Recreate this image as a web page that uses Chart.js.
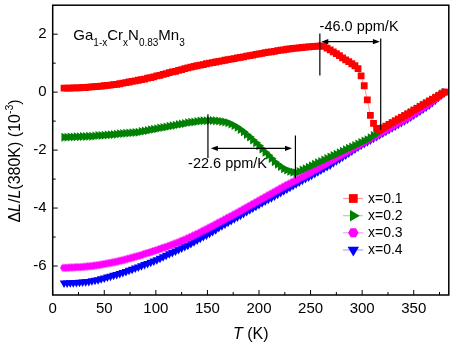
<!DOCTYPE html>
<html>
<head>
<meta charset="utf-8">
<script src="https://cdn.jsdelivr.net/npm/chart.js@4.4.1/dist/chart.umd.min.js"></script>
<style>
  html, body { margin: 0; padding: 0; background: #fff; }
  #wrap { width: 454px; height: 346px; }
</style>
</head>
<body>
<div id="wrap"><canvas id="myChart" width="454" height="346"></canvas></div>
<script>
// temperatures (K), one reading every 3 K
const temps = [
  11, 14, 17, 20, 23, 26, 29, 32, 35, 38,
  41, 44, 47, 50, 53, 56, 59, 62, 65, 68,
  71, 74, 77, 80, 83, 86, 89, 92, 95, 98,
  101, 104, 107, 110, 113, 116, 119, 122, 125, 128,
  131, 134, 137, 140, 143, 146, 149, 152, 155, 158,
  161, 164, 167, 170, 173, 176, 179, 182, 185, 188,
  191, 194, 197, 200, 203, 206, 209, 212, 215, 218,
  221, 224, 227, 230, 233, 236, 239, 242, 245, 248,
  251, 254, 257, 260, 263, 266, 269, 272, 275, 278,
  281, 284, 287, 290, 293, 296, 299, 302, 305, 308,
  311, 314, 317, 320, 323, 326, 329, 332, 335, 338,
  341, 344, 347, 350, 353, 356, 359, 362, 365, 368,
  371, 374, 377, 380,
];

// dL/L(380K) in 10^-3
const x01 = [
  0.14, 0.14, 0.14, 0.15, 0.15, 0.15, 0.16, 0.16, 0.17, 0.18,
  0.19, 0.20, 0.21, 0.22, 0.23, 0.24, 0.26, 0.27, 0.29, 0.31,
  0.33, 0.35, 0.37, 0.39, 0.41, 0.43, 0.45, 0.48, 0.50, 0.53,
  0.56, 0.58, 0.61, 0.64, 0.67, 0.70, 0.72, 0.75, 0.78, 0.81,
  0.84, 0.86, 0.89, 0.91, 0.93, 0.95, 0.98, 1.00, 1.02, 1.04,
  1.06, 1.08, 1.10, 1.12, 1.14, 1.16, 1.18, 1.20, 1.22, 1.24,
  1.26, 1.28, 1.30, 1.32, 1.34, 1.36, 1.38, 1.39, 1.41, 1.43,
  1.45, 1.46, 1.48, 1.49, 1.51, 1.52, 1.53, 1.54, 1.55, 1.56,
  1.57, 1.58, 1.59, 1.60, 1.58, 1.52, 1.46, 1.39, 1.33, 1.26,
  1.18, 1.11, 1.05, 0.98, 0.91, 0.81, 0.56, 0.22, -0.27, -0.80,
  -1.08, -1.25, -1.29, -1.23, -1.17, -1.11, -1.05, -0.99, -0.93, -0.87,
  -0.81, -0.75, -0.69, -0.62, -0.56, -0.50, -0.43, -0.37, -0.31, -0.25,
  -0.19, -0.12, -0.06, 0.00,
];
const x02 = [
  -1.56, -1.56, -1.55, -1.55, -1.54, -1.54, -1.53, -1.53, -1.52, -1.52,
  -1.51, -1.50, -1.50, -1.49, -1.48, -1.47, -1.46, -1.45, -1.44, -1.43,
  -1.42, -1.41, -1.40, -1.39, -1.38, -1.36, -1.34, -1.32, -1.30, -1.28,
  -1.26, -1.24, -1.22, -1.20, -1.18, -1.16, -1.14, -1.12, -1.10, -1.08,
  -1.06, -1.04, -1.03, -1.01, -1.00, -0.99, -0.99, -0.98, -0.98, -0.99,
  -1.00, -1.01, -1.03, -1.06, -1.10, -1.15, -1.21, -1.29, -1.37, -1.46,
  -1.55, -1.65, -1.75, -1.85, -1.96, -2.07, -2.18, -2.29, -2.40, -2.49,
  -2.57, -2.64, -2.69, -2.73, -2.76, -2.78, -2.74, -2.69, -2.64, -2.59,
  -2.54, -2.49, -2.44, -2.39, -2.34, -2.29, -2.24, -2.19, -2.14, -2.09,
  -2.04, -1.99, -1.94, -1.89, -1.84, -1.79, -1.74, -1.69, -1.64, -1.57,
  -1.50, -1.43, -1.36, -1.29, -1.22, -1.15, -1.08, -1.01, -0.95, -0.89,
  -0.83, -0.77, -0.70, -0.64, -0.58, -0.51, -0.45, -0.39, -0.32, -0.26,
  -0.19, -0.13, -0.06, 0.00,
];
const x03 = [
  -6.06, -6.06, -6.05, -6.05, -6.04, -6.04, -6.03, -6.02, -6.01, -6.00,
  -5.98, -5.97, -5.95, -5.93, -5.91, -5.89, -5.87, -5.85, -5.82, -5.80,
  -5.77, -5.74, -5.71, -5.68, -5.65, -5.62, -5.58, -5.55, -5.52, -5.48,
  -5.45, -5.41, -5.37, -5.34, -5.30, -5.26, -5.22, -5.18, -5.13, -5.09,
  -5.04, -4.99, -4.94, -4.89, -4.84, -4.78, -4.73, -4.67, -4.62, -4.56,
  -4.50, -4.45, -4.39, -4.33, -4.28, -4.22, -4.16, -4.10, -4.04, -3.98,
  -3.92, -3.86, -3.80, -3.74, -3.68, -3.62, -3.56, -3.50, -3.44, -3.38,
  -3.32, -3.26, -3.20, -3.15, -3.09, -3.04, -2.98, -2.92, -2.87, -2.81,
  -2.75, -2.69, -2.63, -2.57, -2.51, -2.45, -2.39, -2.33, -2.27, -2.21,
  -2.15, -2.09, -2.03, -1.97, -1.91, -1.85, -1.79, -1.73, -1.67, -1.61,
  -1.55, -1.49, -1.43, -1.37, -1.31, -1.25, -1.19, -1.13, -1.07, -1.01,
  -0.95, -0.89, -0.82, -0.75, -0.68, -0.61, -0.54, -0.47, -0.40, -0.32,
  -0.24, -0.16, -0.08, 0.00,
];
const x04 = [
  -6.59, -6.59, -6.58, -6.58, -6.57, -6.56, -6.55, -6.54, -6.53, -6.51,
  -6.49, -6.47, -6.44, -6.41, -6.38, -6.35, -6.32, -6.29, -6.26, -6.22,
  -6.19, -6.15, -6.11, -6.07, -6.03, -5.99, -5.95, -5.91, -5.87, -5.83,
  -5.78, -5.73, -5.68, -5.63, -5.58, -5.53, -5.48, -5.43, -5.38, -5.33,
  -5.28, -5.22, -5.16, -5.10, -5.04, -4.98, -4.93, -4.87, -4.81, -4.75,
  -4.67, -4.61, -4.55, -4.49, -4.43, -4.37, -4.31, -4.25, -4.19, -4.12,
  -4.06, -4.00, -3.94, -3.88, -3.82, -3.76, -3.70, -3.64, -3.58, -3.52,
  -3.46, -3.40, -3.34, -3.28, -3.22, -3.16, -3.10, -3.04, -2.98, -2.93,
  -2.87, -2.81, -2.75, -2.69, -2.63, -2.57, -2.51, -2.44, -2.37, -2.31,
  -2.24, -2.17, -2.10, -2.03, -1.96, -1.89, -1.83, -1.77, -1.71, -1.65,
  -1.59, -1.53, -1.47, -1.41, -1.35, -1.29, -1.23, -1.17, -1.11, -1.05,
  -0.99, -0.93, -0.86, -0.79, -0.72, -0.65, -0.58, -0.51, -0.44, -0.36,
  -0.27, -0.18, -0.09, 0.00,
];

const seriesLabels = ["x=0.1", "x=0.2", "x=0.3", "x=0.4"];
const seriesValues = [x01, x02, x03, x04];

const xTicks = [0, 50, 100, 150, 200, 250, 300, 350];
const xMinor = [25, 75, 125, 175, 225, 275, 325, 375];
const yTicks = [-6, -4, -2, 0, 2];
const yMinor = [-5, -3, -1, 1];

const FONT = '"Liberation Sans", Arial, Helvetica, sans-serif';

// look of each series
const looks = [
  { color: "#ff0000", line: "rgba(255,0,0,0.4)", style: "rect", radius: 4.8, rotation: 0, legend: 6.2 },
  { color: "#008000", line: "rgba(0,128,0,0.35)", style: "triangle", radius: 5.2, rotation: 90, legend: 6.6 },
  { color: "#ff00ff", line: "rgba(255,0,255,0.4)", style: "hex", radius: 4.0, rotation: 0, legend: 5.2 },
  { color: "#0000ff", line: "rgba(0,0,255,0.35)", style: "triangle", radius: 5.0, rotation: 180, legend: 6.6 },
];

// annotation marks (data units)
const vLines = [
  { x: 259, y1: 0.57, y2: 2.02 },
  { x: 318, y1: -1.3, y2: 1.85 },
  { x: 150.5, y1: -2.27, y2: -0.76 },
  { x: 235.3, y1: -2.98, y2: -1.5 },
];
const arrows = [
  { x1: 260.4, x2: 317.2, y: 1.74 },
  { x1: 153.3, x2: 232, y: -1.94 },
];
const notes = [
  { text: "-46.0 ppm/K", x: 297, y: 2.25 },
  { text: "-22.6 ppm/K", x: 169.5, y: -2.48 },
];
const formula = [
  { t: "Ga" }, { t: "1-x", sub: true }, { t: "Cr" }, { t: "x", sub: true },
  { t: "N" }, { t: "0.83", sub: true }, { t: "Mn" }, { t: "3", sub: true },
];

function hexPath(ctx, x, y, r) {
  ctx.beginPath();
  for (let i = 0; i < 6; i++) {
    const a = (Math.PI / 3) * i;
    const px = x + r * Math.cos(a), py = y + r * Math.sin(a);
    if (i) ctx.lineTo(px, py); else ctx.moveTo(px, py);
  }
  ctx.closePath();
}

function markerPath(ctx, style, x, y, r, rot) {
  if (style === "hex") return hexPath(ctx, x, y, r);
  ctx.beginPath();
  if (style === "rect") {
    const s = r * Math.SQRT1_2;
    ctx.rect(x - s, y - s, 2 * s, 2 * s);
    return;
  }
  let a = (rot * Math.PI) / 180;
  for (let i = 0; i < 3; i++) {
    const px = x + Math.sin(a) * r, py = y - Math.cos(a) * r;
    if (i) ctx.lineTo(px, py); else ctx.moveTo(px, py);
    a += (2 * Math.PI) / 3;
  }
  ctx.closePath();
}

function hexImage(r, color) {
  const c = document.createElement("canvas");
  const s = Math.ceil(2 * r) + 2;
  c.width = s;
  c.height = s;
  const g = c.getContext("2d");
  g.fillStyle = color;
  hexPath(g, s / 2, s / 2, r);
  g.fill();
  return c;
}

// text made of runs with different fonts
function runsWidth(ctx, runs) {
  let w = 0;
  runs.forEach(r => { ctx.font = r.font; w += ctx.measureText(r.t).width; });
  return w;
}
function drawRuns(ctx, runs, x, y) {
  runs.forEach(r => {
    ctx.font = r.font;
    ctx.fillText(r.t, x, y + (r.dy || 0));
    x += ctx.measureText(r.t).width;
  });
}

const decor = {
  id: "decor",
  afterDatasetsDraw(chart) {
    const { ctx, chartArea: a, scales } = chart;
    const sx = scales.x, sy = scales.y;
    ctx.save();

    // frame
    ctx.strokeStyle = "#000";
    ctx.lineWidth = 1.5;
    ctx.strokeRect(a.left, a.top, a.right - a.left, a.bottom - a.top);

    // inward ticks on left and bottom
    ctx.lineWidth = 1;
    ctx.beginPath();
    xTicks.forEach(v => { const p = sx.getPixelForValue(v); ctx.moveTo(p, a.bottom); ctx.lineTo(p, a.bottom - 5); });
    xMinor.forEach(v => { const p = sx.getPixelForValue(v); ctx.moveTo(p, a.bottom); ctx.lineTo(p, a.bottom - 3); });
    yTicks.forEach(v => { const p = sy.getPixelForValue(v); ctx.moveTo(a.left, p); ctx.lineTo(a.left + 5, p); });
    yMinor.forEach(v => { const p = sy.getPixelForValue(v); ctx.moveTo(a.left, p); ctx.lineTo(a.left + 3, p); });
    ctx.stroke();

    // annotation lines
    ctx.lineWidth = 1.2;
    ctx.beginPath();
    vLines.forEach(l => {
      const p = sx.getPixelForValue(l.x);
      ctx.moveTo(p, sy.getPixelForValue(l.y1));
      ctx.lineTo(p, sy.getPixelForValue(l.y2));
    });
    arrows.forEach(l => {
      const py = sy.getPixelForValue(l.y);
      ctx.moveTo(sx.getPixelForValue(l.x1) + 4, py);
      ctx.lineTo(sx.getPixelForValue(l.x2) - 4, py);
    });
    ctx.stroke();
    ctx.fillStyle = "#000";
    arrows.forEach(l => {
      const py = sy.getPixelForValue(l.y);
      const p1 = sx.getPixelForValue(l.x1), p2 = sx.getPixelForValue(l.x2);
      ctx.beginPath();
      ctx.moveTo(p1, py); ctx.lineTo(p1 + 7, py - 2.6); ctx.lineTo(p1 + 7, py + 2.6); ctx.closePath();
      ctx.moveTo(p2, py); ctx.lineTo(p2 - 7, py - 2.6); ctx.lineTo(p2 - 7, py + 2.6); ctx.closePath();
      ctx.fill();
    });

    ctx.textBaseline = "middle";
    ctx.textAlign = "center";
    ctx.font = "14.5px " + FONT;
    notes.forEach(n => ctx.fillText(n.text, sx.getPixelForValue(n.x), sy.getPixelForValue(n.y)));

    // compound formula
    ctx.textAlign = "left";
    ctx.textBaseline = "alphabetic";
    drawRuns(ctx, formula.map(f => ({
      t: f.t,
      font: (f.sub ? "10px " : "15px ") + FONT,
      dy: f.sub ? 6 : 0,
    })), sx.getPixelForValue(20), sy.getPixelForValue(1.79));

    // legend
    const rows = [198.5, 215.7, 232.8, 250];
    looks.forEach((lk, i) => {
      const y = rows[i];
      ctx.strokeStyle = lk.line;
      ctx.lineWidth = 1.2;
      ctx.beginPath();
      ctx.moveTo(343, y); ctx.lineTo(363, y);
      ctx.stroke();
      ctx.fillStyle = lk.color;
      markerPath(ctx, lk.style, 353.3, y, lk.legend, lk.rotation);
      ctx.fill();
      ctx.fillStyle = "#000";
      ctx.font = "14px " + FONT;
      ctx.textBaseline = "middle";
      ctx.fillText(seriesLabels[i], 368, y + 0.5);
    });

    // axis titles
    ctx.fillStyle = "#000";
    ctx.textBaseline = "middle";
    const xt = [
      { t: "T", font: "italic 16px " + FONT },
      { t: " (K)", font: "16px " + FONT },
    ];
    const cx = (a.left + a.right) / 2;
    drawRuns(ctx, xt, cx - runsWidth(ctx, xt) / 2, 335);

    const yt = [
      { t: "\u0394", font: "16px " + FONT },
      { t: "L", font: "italic 16px " + FONT },
      { t: "/", font: "16px " + FONT },
      { t: "L", font: "italic 16px " + FONT },
      { t: "(380K) (10", font: "16px " + FONT },
      { t: "-3", font: "10.5px " + FONT, dy: -6 },
      { t: ")", font: "16px " + FONT },
    ];
    ctx.translate(16, 161);
    ctx.rotate(-Math.PI / 2);
    drawRuns(ctx, yt, -runsWidth(ctx, yt) / 2, 0);

    ctx.restore();
  },
};

const ctx = document.getElementById("myChart").getContext("2d");

const myChart = new Chart(ctx, {
  type: "scatter",
  data: {
    datasets: seriesValues.map((vals, i) => {
      const lk = looks[i];
      return {
        label: seriesLabels[i],
        data: temps.map((t, k) => ({ x: t, y: vals[k] })),
        showLine: true,
        borderColor: lk.line,
        borderWidth: 1,
        pointStyle: lk.style === "hex" ? hexImage(lk.radius, lk.color) : lk.style,
        pointRadius: lk.radius,
        pointRotation: lk.rotation,
        pointBackgroundColor: lk.color,
        pointBorderColor: lk.color,
        pointBorderWidth: 0,
      };
    }),
  },
  options: {
    responsive: false,
    animation: false,
    layout: { padding: { top: 2, right: 3, left: 0, bottom: 0 } },
    plugins: {
      legend: { display: false },
      tooltip: { enabled: false },
    },
    scales: {
      x: {
        type: "linear",
        position: "bottom",
        min: 0,
        max: 384,
        afterBuildTicks: s => { s.ticks = xTicks.map(v => ({ value: v })); },
        afterFit: s => { s.height = 51; s.paddingLeft = 0; s.paddingRight = 0; },
        grid: { display: false, drawTicks: false },
        border: { display: false },
        ticks: { color: "#000", font: { family: FONT, size: 15 }, padding: 5, maxRotation: 0, autoSkip: false },
      },
      y: {
        type: "linear",
        min: -7,
        max: 3,
        afterBuildTicks: s => { s.ticks = yTicks.map(v => ({ value: v })); },
        afterFit: s => { s.width = 52.7; s.paddingTop = 0; s.paddingBottom = 0; },
        grid: { display: false, drawTicks: false },
        border: { display: false },
        ticks: { color: "#000", font: { family: FONT, size: 15 }, padding: 6, autoSkip: false },
      },
    },
  },
  plugins: [decor],
});
</script>
</body>
</html>
